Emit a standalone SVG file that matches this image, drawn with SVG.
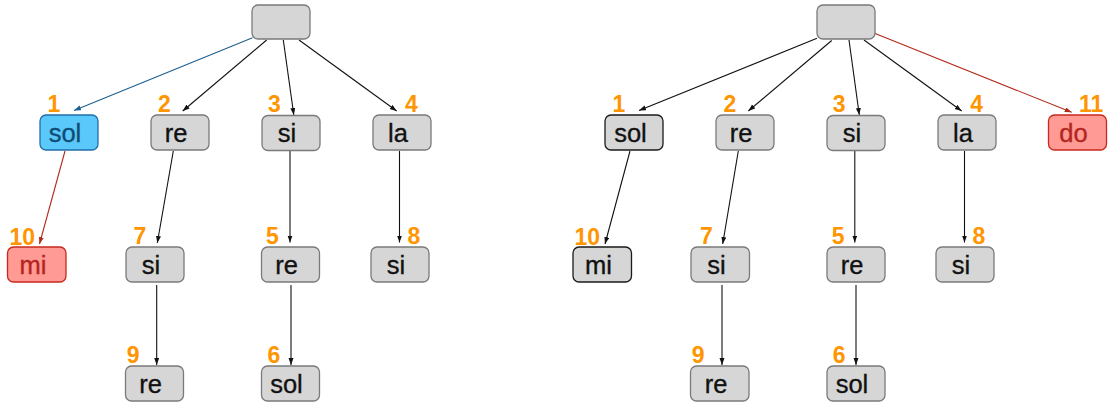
<svg xmlns="http://www.w3.org/2000/svg" width="1110" height="406" viewBox="0 0 1110 406">
<style>
.n{fill:#D6D6D6;stroke:#7A7A7A;stroke-width:1.3}
.nb{fill:#D6D6D6;stroke:#1A1A1A;stroke-width:1.3}
.blue{fill:#5AC8FA;stroke:#1F6FA8;stroke-width:1.3}
.red{fill:#FF9A95;stroke:#C8291C;stroke-width:1.3}
.t{font-family:"Liberation Sans",Arial,sans-serif;font-size:25.5px;fill:#111;stroke:#111;stroke-width:0.35;text-anchor:middle}
.tb{fill:#0F4C75;stroke:#0F4C75}
.tr{fill:#B3261E;stroke:#B3261E}
.num{font-family:"Liberation Sans",Arial,sans-serif;font-size:23px;font-weight:bold;fill:#FF9500}
.e{fill:none;stroke:#111;stroke-width:1.1;marker-end:url(#ak)}
.eb{fill:none;stroke:#1F5F8F;stroke-width:1.1;marker-end:url(#ab)}
.er{fill:none;stroke:#B22A1A;stroke-width:1.1;marker-end:url(#ar)}
</style>
<defs>
<marker id="ak" markerUnits="userSpaceOnUse" markerWidth="8" markerHeight="6" refX="7" refY="2.5" orient="auto"><path d="M0,0 L7,2.5 L0,5 z" fill="#111"/></marker>
<marker id="ab" markerUnits="userSpaceOnUse" markerWidth="8" markerHeight="6" refX="7" refY="2.5" orient="auto"><path d="M0,0 L7,2.5 L0,5 z" fill="#1F5F8F"/></marker>
<marker id="ar" markerUnits="userSpaceOnUse" markerWidth="8" markerHeight="6" refX="7" refY="2.5" orient="auto"><path d="M0,0 L7,2.5 L0,5 z" fill="#B22A1A"/></marker>
</defs>

<g id="connectors">
<path class="eb" d="M252.5,37.7 L74,110.5"/>
<path class="e" d="M266.7,40 L182.7,111"/>
<path class="e" d="M283.3,40 L293.8,115"/>
<path class="e" d="M299,40 L396.7,111"/>
<path class="er" d="M65,151 L39.5,244"/>
<path class="e" d="M173.3,151 L157.3,243"/>
<path class="e" d="M290,151 L290,242.5"/>
<path class="e" d="M399.5,151 L399.5,242.5"/>
<path class="e" d="M156.7,285 L156.7,365"/>
<path class="e" d="M291,285 L291,365"/>
<path class="e" d="M817,38.3 L639,110.5"/>
<path class="e" d="M831.7,40.5 L748.3,111"/>
<path class="e" d="M849,40 L859.3,115"/>
<path class="e" d="M864,40 L961.7,111"/>
<path class="er" d="M874.5,33.3 L1071.7,112.3"/>
<path class="e" d="M630,151 L605,244"/>
<path class="e" d="M738.3,151 L722.7,244"/>
<path class="e" d="M854.8,151 L854.8,242.5"/>
<path class="e" d="M964.5,151 L964.5,242.5"/>
<path class="e" d="M722,285 L722,365"/>
<path class="e" d="M856,285 L856,365"/>
</g>

<g id="L-root"><rect class="n" x="252" y="5" width="58" height="34" rx="6"/></g>
<g id="L-sol"><rect class="blue" x="40" y="115" width="58" height="35" rx="6"/><text class="t tb" x="65" y="141.5">sol</text><text class="num" x="47.5" y="111.5">1</text></g>
<g id="L-re"><rect class="n" x="151" y="115" width="58" height="35" rx="6"/><text class="t" x="176" y="141.5">re</text><text class="num" x="158" y="111.5">2</text></g>
<g id="L-si"><rect class="n" x="262" y="115.5" width="58" height="35" rx="6"/><text class="t" x="287" y="141.5">si</text><text class="num" x="268" y="111.5">3</text></g>
<g id="L-la"><rect class="n" x="373" y="115" width="58" height="35" rx="6"/><text class="t" x="398" y="141.5">la</text><text class="num" x="405" y="111.5">4</text></g>
<g id="L-mi"><rect class="red" x="7.5" y="247" width="58.5" height="35" rx="6"/><text class="t tr" x="33" y="273.5">mi</text><text class="num" x="9.5" y="245">10</text></g>
<g id="L-si7"><rect class="n" x="126" y="247" width="58" height="35" rx="6"/><text class="t" x="151" y="273.5">si</text><text class="num" x="133.5" y="244">7</text></g>
<g id="L-re5"><rect class="n" x="261.5" y="247" width="58" height="35" rx="6"/><text class="t" x="286.5" y="273.5">re</text><text class="num" x="266" y="244">5</text></g>
<g id="L-si8"><rect class="n" x="371" y="247" width="58" height="35" rx="6"/><text class="t" x="396" y="273.5">si</text><text class="num" x="407.5" y="244">8</text></g>
<g id="L-re9"><rect class="n" x="125.5" y="366" width="58" height="35" rx="6"/><text class="t" x="150.5" y="392.5">re</text><text class="num" x="126.8" y="363.3">9</text></g>
<g id="L-sol6"><rect class="n" x="261.5" y="366" width="58" height="35" rx="6"/><text class="t" x="286.5" y="392.5">sol</text><text class="num" x="267.5" y="363">6</text></g>

<g id="R-root"><rect class="n" x="817" y="5" width="58" height="34" rx="6"/></g>
<g id="R-sol"><rect class="nb" x="605" y="115" width="58" height="35" rx="6"/><text class="t" x="630.5" y="141.5">sol</text><text class="num" x="612.5" y="111.5">1</text></g>
<g id="R-re"><rect class="n" x="716" y="115" width="58" height="35" rx="6"/><text class="t" x="741" y="141.5">re</text><text class="num" x="723.5" y="111.5">2</text></g>
<g id="R-si"><rect class="n" x="827" y="115.5" width="58" height="35" rx="6"/><text class="t" x="852" y="141.5">si</text><text class="num" x="832.8" y="111.5">3</text></g>
<g id="R-la"><rect class="n" x="938" y="115" width="58" height="35" rx="6"/><text class="t" x="963" y="141.5">la</text><text class="num" x="970.2" y="111.5">4</text></g>
<g id="R-do"><rect class="red" x="1048.5" y="115" width="58" height="35" rx="6"/><text class="t tr" x="1073.5" y="141.5">do</text><text class="num" x="1079" y="111.5">11</text></g>
<g id="R-mi"><rect class="nb" x="573" y="247" width="58.5" height="35" rx="6"/><text class="t" x="598.5" y="273.5">mi</text><text class="num" x="574.5" y="245">10</text></g>
<g id="R-si7"><rect class="n" x="691" y="247" width="58.5" height="35" rx="6"/><text class="t" x="716.5" y="273.5">si</text><text class="num" x="700" y="244">7</text></g>
<g id="R-re5"><rect class="n" x="827" y="247" width="58" height="35" rx="6"/><text class="t" x="852" y="273.5">re</text><text class="num" x="831.8" y="244">5</text></g>
<g id="R-si8"><rect class="n" x="936" y="247" width="58" height="35" rx="6"/><text class="t" x="961" y="273.5">si</text><text class="num" x="972.5" y="244">8</text></g>
<g id="R-re9"><rect class="n" x="690.5" y="366" width="58.5" height="35" rx="6"/><text class="t" x="716" y="392.5">re</text><text class="num" x="691.8" y="363.3">9</text></g>
<g id="R-sol6"><rect class="n" x="827" y="366" width="58" height="35" rx="6"/><text class="t" x="852" y="392.5">sol</text><text class="num" x="832.8" y="363">6</text></g>
</svg>
